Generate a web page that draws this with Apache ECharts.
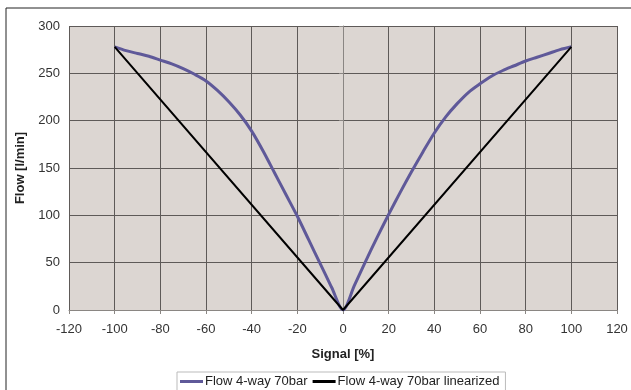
<!DOCTYPE html>
<html>
<head>
<meta charset="utf-8">
<script src="https://cdn.jsdelivr.net/npm/echarts@6/dist/echarts.min.js"></script>
<style>
  html, body { margin: 0; padding: 0; background: #fff; }
  #chart { width: 631px; height: 390px; }
</style>
</head>
<body>
<div id="chart"></div>
<script>
const signal = [-100, -95, -90, -85, -80, -75, -70, -65, -60, -55, -50, -45, -40, -35, -30, -25, -20, -15, -10, -5,
  0, 5, 10, 15, 20, 25, 30, 35, 40, 45, 50, 55, 60, 65, 70, 75, 80, 85, 90, 95, 100];
const flow = [278, 274, 271, 268, 264, 260, 255, 249, 242, 232, 220, 206, 189, 168, 145, 122, 99, 74, 49, 24,
  0, 26, 52, 77, 101, 124, 146, 167, 187, 204, 218, 230, 239, 247, 253, 258, 263, 267, 271, 275, 278];
const linSignal = [-100, 0, 100];
const linFlow = [278, 0, 278];

const names = ["Flow 4-way 70bar", "Flow 4-way 70bar linearized"];

const pairs = (xs, ys) => xs.map((x, i) => [x, ys[i]]);

const chart = echarts.init(document.getElementById("chart"));
const font = "Liberation Sans, Arial, sans-serif";

chart.setOption({
  backgroundColor: "#fff",
  animation: false,
  textStyle: { fontFamily: font },
  graphic: [{
    type: "rect",
    shape: { x: 6, y: 8, width: 700, height: 500 },
    style: { fill: "none", stroke: "#222", lineWidth: 1 },
    silent: true
  }],
  grid: {
    left: 69, top: 26, right: 14, bottom: 80,
    show: true, backgroundColor: "#dcd6d2", borderWidth: 0
  },
  legend: {
    left: 177, top: 372,
    padding: [3, 6, 3, 3],
    borderColor: "#bbb", borderWidth: 1,
    icon: "rect", itemWidth: 23, itemHeight: 3, itemGap: 5,
    textStyle: { fontSize: 13, color: "#222", fontFamily: font, padding: [0, 0, 0, -3] },
    data: names
  },
  xAxis: {
    type: "value", min: -120, max: 120, interval: 20,
    name: "Signal [%]", nameLocation: "middle", nameGap: 38,
    nameTextStyle: { fontWeight: "bold", fontSize: 13, color: "#222" },
    axisLine: { show: true, lineStyle: { color: "#8a8683", width: 1 } },
    axisTick: { show: true, length: 4, lineStyle: { color: "#8a8683" } },
    axisLabel: { fontSize: 13, color: "#333", margin: 13 },
    splitLine: { show: true, lineStyle: { color: "#5e5a58", width: 1 } }
  },
  yAxis: {
    type: "value", min: 0, max: 300, interval: 50,
    name: "Flow [l/min]", nameLocation: "middle", nameGap: 39,
    nameTextStyle: { fontWeight: "bold", fontSize: 13, color: "#222" },
    axisLine: { show: true, lineStyle: { color: "#8a8683", width: 1 } },
    axisTick: { show: true, length: 4, lineStyle: { color: "#8a8683" } },
    axisLabel: { fontSize: 13, color: "#333", margin: 9 },
    splitLine: { show: true, lineStyle: { color: "#5e5a58", width: 1 } }
  },
  series: [
    {
      name: names[0], type: "line", symbol: "none", smooth: 0.3,
      data: pairs(signal, flow),
      lineStyle: { color: "#5f5999", width: 3 },
      itemStyle: { color: "#5f5999" }
    },
    {
      name: names[1], type: "line", symbol: "none",
      data: pairs(linSignal, linFlow),
      lineStyle: { color: "#000", width: 2 },
      itemStyle: { color: "#000" }
    }
  ]
});
</script>
</body>
</html>
